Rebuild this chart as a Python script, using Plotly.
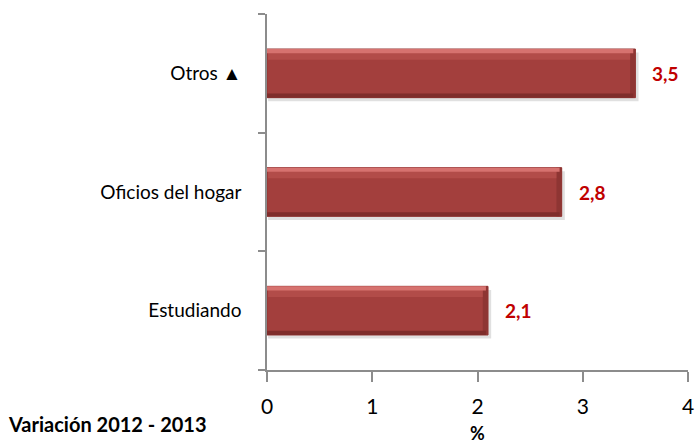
import plotly.graph_objects as go

# Variación 2012 - 2013 por categoría (%)
categorias = ["Estudiando", "Oficios del hogar", "Otros ▲"]
valores = [2.1, 2.8, 3.5]
etiquetas = ["2,1", "2,8", "3,5"]
ticks_x = [0, 1, 2, 3, 4]

FONT = "Lato, 'Open Sans', sans-serif"
BAR_W = 0.41
EDGE = 0.05  # bevel depth along the value axis


def strip(xs, base, offset, width, color):
    """Thin overlay bar used to build the bevelled look of each bar."""
    return go.Bar(
        y=categorias, x=xs, base=base, orientation="h",
        width=width, offset=offset,
        marker=dict(color=color, line=dict(width=0)),
        hoverinfo="skip", showlegend=False,
    )


fig = go.Figure()

# soft drop shadow under each bar
fig.add_trace(strip([v + 0.02 for v in valores], 0.01,
                    -BAR_W / 2 - 0.03, BAR_W, "rgba(0,0,0,0.12)"))

# main bars
fig.add_trace(go.Bar(
    y=categorias, x=valores, orientation="h", width=BAR_W,
    marker=dict(color="#A33F3D", line=dict(color="#933634", width=1)),
    hoverinfo="skip", showlegend=False,
))

# darker right-hand bevel
fig.add_trace(strip([EDGE] * len(valores), [v - EDGE for v in valores],
                    -BAR_W / 2, BAR_W, "#8E3533"))

# upper bevel: bright edge plus a softer band beneath it
fig.add_trace(strip([v - EDGE - 0.01 for v in valores], 0.01,
                    BAR_W / 2 - 0.09, 0.06, "#B24C49"))
fig.add_trace(strip([v - 0.02 for v in valores], 0.0,
                    BAR_W / 2 - 0.035, 0.035, "#D6726F"))

# lower bevel
fig.add_trace(strip([v - 0.02 for v in valores], 0.0,
                    -BAR_W / 2, 0.035, "#7F2D2B"))

for cat, v, lab in zip(categorias, valores, etiquetas):
    fig.add_annotation(
        x=v, y=cat, text=f"<b>{lab}</b>", showarrow=False,
        xanchor="left", xshift=15,
        font=dict(family=FONT, size=19, color="#C00000"),
    )

fig.add_annotation(
    xref="paper", yref="paper", x=-0.62, y=-0.152,
    text="<b>Variación 2012 - 2013</b>", showarrow=False,
    xanchor="left", yanchor="middle",
    font=dict(family=FONT, size=20, color="#000000"),
)

fig.update_layout(
    width=696, height=444,
    margin=dict(l=267, r=8, t=14, b=74),
    paper_bgcolor="white", plot_bgcolor="white",
    barmode="overlay", bargap=0.5,
    font=dict(family=FONT, color="#000000"),
    xaxis=dict(
        range=[0, 4], tickvals=ticks_x, ticktext=[str(t) for t in ticks_x],
        showgrid=False, zeroline=False, automargin=False,
        showline=True, linecolor="#8C8C8C", linewidth=1.5,
        ticks="outside", ticklen=10, tickcolor="#8C8C8C", tickwidth=1.5,
        ticklabelstandoff=7,
        tickfont=dict(family=FONT, size=21, color="#000000"),
        title=dict(text="<b>%</b>", standoff=10,
                   font=dict(family=FONT, size=18, color="#000000")),
        fixedrange=True,
    ),
    yaxis=dict(
        type="category", categoryorder="array", categoryarray=categorias,
        range=[-0.5, 2.5], automargin=False,
        showgrid=False, zeroline=False,
        showline=True, linecolor="#8C8C8C", linewidth=1.5,
        ticks="outside", ticklen=7, tickcolor="#8C8C8C", tickwidth=1.5,
        tickson="boundaries", ticklabelstandoff=20,
        tickfont=dict(family=FONT, size=19, color="#000000"),
        fixedrange=True,
    ),
)

fig.write_html("out.html")
